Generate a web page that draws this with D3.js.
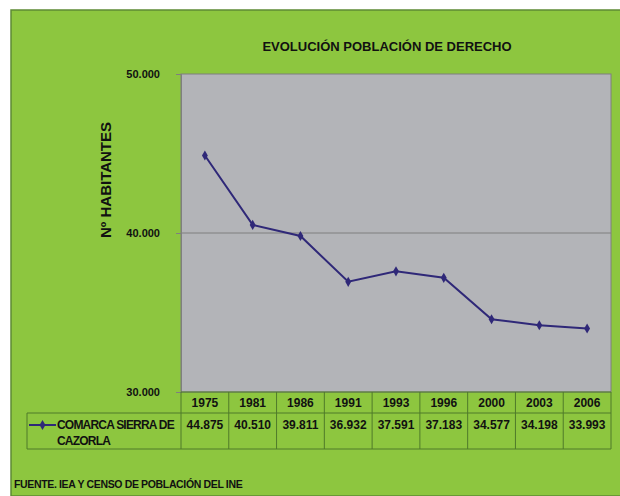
<!DOCTYPE html>
<html><head><meta charset="utf-8">
<script src="https://cdn.jsdelivr.net/npm/d3@7"></script>
<style>body{margin:0;background:#fff}svg{display:block;font-family:"Liberation Sans",Arial,sans-serif}</style>
</head><body>
<script>
const years = ["1975","1981","1986","1991","1993","1996","2000","2003","2006"];
const values = [44875,40510,39811,36932,37591,37183,34577,34198,33993];
const yTicks = [30000,40000,50000];
const seriesName = ["COMARCA SIERRA DE","CAZORLA"];
const title = "EVOLUCIÓN POBLACIÓN DE DERECHO";
const yTitle = "Nº HABITANTES";
const source = "FUENTE. IEA Y CENSO DE POBLACIÓN DEL INE";

const W=620,H=496;
const svg=d3.select("body").append("svg").attr("width",W).attr("height",H);
const green="#8dc63f", lineCol="#2f2878", gridCol="#4f7a2a";
svg.append("rect").attr("x",11).attr("y",10).attr("width",W-10).attr("height",H-10).attr("fill",green).attr("stroke","#5d8a35").attr("stroke-width",1.5);

const L=181,R=611,T=74,B=392;
const x=d3.scaleBand().domain(years).range([L,R]);
const y=d3.scaleLinear().domain([30000,50000]).range([B,T]);
svg.append("rect").attr("x",L).attr("y",T).attr("width",R-L).attr("height",B-T).attr("fill","#b3b4b8").attr("stroke","#7f7f7f").attr("stroke-width",1);

svg.append("g").selectAll("line").data(yTicks.filter(d=>d>30000&&d<50000)).join("line")
 .attr("x1",L).attr("x2",R).attr("y1",d=>y(d)).attr("y2",d=>y(d)).attr("stroke","#7f7f7f").attr("stroke-width",1);

const yAxis=d3.axisLeft(y).tickValues(yTicks).tickSize(5).tickPadding(16)
 .tickFormat(d=>d3.format(",")(d).replace(/,/g,"."));
const gy=svg.append("g").attr("transform",`translate(${L},0)`).call(yAxis);
gy.select(".domain").attr("stroke","#7f7f7f");
gy.selectAll(".tick line").attr("stroke","#7f7f7f");
gy.selectAll(".tick text").attr("font-size",11).attr("font-weight","bold").attr("fill","#111").attr("font-family","Liberation Sans, Arial");

svg.append("text").attr("x",387).attr("y",51).attr("text-anchor","middle").attr("font-size",13).attr("font-weight","bold").attr("fill","#111").text(title);
svg.append("text").attr("transform","translate(111,180) rotate(-90)").attr("text-anchor","middle").attr("font-size",15).attr("font-weight","bold").attr("fill","#111").text(yTitle);

const line=d3.line().x((d,i)=>x(years[i])+x.bandwidth()/2).y(d=>y(d));
svg.append("path").attr("d",line(values)).attr("fill","none").attr("stroke",lineCol).attr("stroke-width",2);
const sym=d3.symbol().type(d3.symbolDiamond).size(30);
svg.append("g").selectAll("path").data(values).join("path")
 .attr("transform",(d,i)=>`translate(${x(years[i])+x.bandwidth()/2},${y(d)})`).attr("d",sym).attr("fill",lineCol);

// table
const r1b=413,r2b=449,TL=27;
const tg=svg.append("g").attr("stroke",gridCol).attr("stroke-width",1).attr("fill","none");
tg.append("line").attr("x1",L).attr("x2",R).attr("y1",B).attr("y2",B);
tg.append("line").attr("x1",TL).attr("x2",R).attr("y1",r1b).attr("y2",r1b);
tg.append("line").attr("x1",TL).attr("x2",R).attr("y1",r2b).attr("y2",r2b);
tg.append("line").attr("x1",TL).attr("x2",TL).attr("y1",r1b).attr("y2",r2b);
tg.selectAll(".v").data(years.concat(["end"])).join("line")
 .attr("x1",(d,i)=>i<years.length?x(d):R).attr("x2",(d,i)=>i<years.length?x(d):R).attr("y1",B).attr("y2",r2b);

svg.append("g").selectAll("text").data(years).join("text")
 .attr("x",d=>x(d)+x.bandwidth()/2).attr("y",407).attr("text-anchor","middle").attr("font-size",12).attr("font-weight","bold").attr("fill","#111").text(d=>d);
svg.append("g").selectAll("text").data(values).join("text")
 .attr("x",(d,i)=>x(years[i])+x.bandwidth()/2).attr("y",429).attr("text-anchor","middle").attr("font-size",12).attr("font-weight","bold").attr("fill","#111")
 .text(d=>d3.format(",")(d).replace(/,/g,"."));

svg.append("line").attr("x1",29).attr("x2",56).attr("y1",425).attr("y2",425).attr("stroke",lineCol).attr("stroke-width",2);
svg.append("path").attr("transform","translate(42.5,425)").attr("d",sym).attr("fill",lineCol);
svg.append("g").selectAll("text").data(seriesName).join("text")
 .attr("x",57).attr("y",(d,i)=>429+i*16).attr("font-size",12).attr("font-weight","bold").attr("fill","#111").attr("letter-spacing",-0.8).text(d=>d);

svg.append("text").attr("x",14).attr("y",488).attr("font-size",10.5).attr("font-weight","bold").attr("fill","#111").attr("letter-spacing",-0.35).text(source);
</script>
</body></html>
